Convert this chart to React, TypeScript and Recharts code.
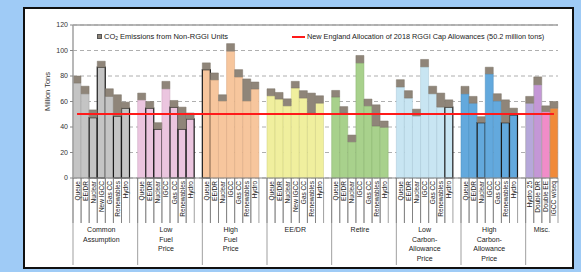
import React from "react";
import { BarChart, Bar, XAxis, YAxis, CartesianGrid, ReferenceLine, Legend, Rectangle } from "recharts";

// ---------- data ----------
const groupLabels: string[][] = [
  ["Common", "Assumption"],
  ["Low", "Fuel", "Price"],
  ["High", "Fuel", "Price"],
  ["EE/DR"],
  ["Retire"],
  ["Low", "Carbon-", "Allowance", "Price"],
  ["High", "Carbon-", "Allowance", "Price"],
  ["Misc."],
];

const caseLabels: string[][] = [
  ["Queue", "EE/DR", "Nuclear", "New IGCC", "Gas CC", "Renewables", "Hydro"],
  ["Queue", "EE/DR", "Nuclear", "IGCC", "Gas CC", "Renewables", "Hydro"],
  ["Queue", "EE/DR", "Nuclear", "IGCC", "Gas CC", "Renewables", "Hydro"],
  ["Queue", "EE/DR", "Nuclear", "New IGCC", "Gas CC", "Renewables", "Hydro"],
  ["Queue", "EE/DR", "Nuclear", "IGCC", "Gas CC", "Renewables", "Hydro"],
  ["Queue", "EE/DR", "Nuclear", "IGCC", "Gas CC", "Renewables", "Hydro"],
  ["Queue", "EE/DR", "Nuclear", "IGCC", "Gas CC", "Renewables", "Hydro"],
  ["Hydro 25", "Double DR", "Double EE", "IGCC w/seq"],
];

// RGGI-unit emissions (million tons)
const rggiEmissions: number[][] = [
  [74.5, 66.1, 47.4, 86.9, 64.0, 48.5, 54.8],
  [61.3, 54.8, 38.4, 70.0, 55.6, 38.4, 46.3],
  [85.0, 77.0, 60.5, 99.5, 79.3, 60.5, 69.8],
  [64.5, 61.9, 56.6, 70.6, 62.7, 50.8, 58.7],
  [63.5, 50.8, 28.4, 90.3, 56.6, 40.8, 39.8],
  [71.4, 62.7, 48.7, 87.2, 66.1, 55.6, 55.6],
  [66.1, 58.7, 43.4, 81.7, 60.5, 43.4, 49.5],
  [58.7, 73.2, 52.1, 54.8],
];

// CO2 emissions from non-RGGI units (million tons)
const nonRggiEmissions: number[][] = [
  [5.5, 5.9, 6.0, 4.7, 6.0, 16.8, 4.7],
  [5.3, 5.2, 5.0, 5.8, 5.2, 17.2, 4.7],
  [5.3, 5.4, 4.8, 5.9, 5.7, 17.2, 5.5],
  [5.5, 5.2, 5.5, 5.2, 5.8, 15.8, 5.8],
  [5.2, 5.2, 5.3, 5.8, 5.3, 16.6, 4.9],
  [5.7, 5.8, 5.3, 5.8, 5.9, 11.0, 5.7],
  [5.8, 5.3, 4.7, 5.2, 5.6, 17.9, 5.3],
  [5.3, 6.1, 4.5, 5.2],
];

const capAllowance = 50.2;
const yTicks = [0, 20, 40, 60, 80, 100, 120];

// ---------- styles ----------
const groupFills: string[][] = [
  ["#c4c4c4"],
  ["#ebc5df"],
  ["#f7c69d"],
  ["#f0ef9e"],
  ["#a8d18c"],
  ["#c8e5f2"],
  ["#63a9dd"],
  ["#b6a8da", "#c497d6", "#f08cc8", "#f08a3a"],
];
const groupEdges = ["#9c9c9c", "#c9a3bd", "#d9a57c", "#cfcf7e", "#88b06c", "#a4c4d4", "#4a8cbd", "#999"];
const outlinedBars: number[][] = [[2, 3, 5, 6], [1, 2, 4, 5, 6], [0], [], [], [6], [2, 5, 6], []];
const NONRGGI_FILL = "#8f8579";
const NONRGGI_EDGE = "#7d7468";
const FONT = "'Liberation Sans', Arial, sans-serif";

const W = 581;
const H = 272;
const M = { top: 25, right: 23, left: 43, bottom: 0 };
const YAXIS_W = 30;
const XAXIS_H = 94;

type Row = {
  key: string;
  label: string;
  gap: boolean;
  group: number;
  idx: number;
  size: number;
  rggi: number | null;
  nonRggi: number | null;
  fill: string;
  stroke: string;
  strokeWidth: number;
};

const rows: Row[] = [];
caseLabels.forEach((labels, g) => {
  labels.forEach((label, i) => {
    const outlined = outlinedBars[g].includes(i);
    const fills = groupFills[g];
    rows.push({
      key: `g${g}-${i}`,
      label,
      gap: false,
      group: g,
      idx: i,
      size: labels.length,
      rggi: rggiEmissions[g][i],
      nonRggi: nonRggiEmissions[g][i],
      fill: fills[i % fills.length],
      stroke: outlined ? "#1a1a1a" : groupEdges[g],
      strokeWidth: outlined ? 1.2 : 0.5,
    });
  });
  if (g < caseLabels.length - 1) {
    rows.push({
      key: `gap${g}`,
      label: "",
      gap: true,
      group: g,
      idx: -1,
      size: 0,
      rggi: null,
      nonRggi: null,
      fill: "none",
      stroke: "none",
      strokeWidth: 0,
    });
  }
});
const rowByKey: Record<string, Row> = {};
rows.forEach((r) => (rowByKey[r.key] = r));

const PLOT_W = W - M.left - YAXIS_W - M.right;
const BAND = PLOT_W / rows.length;

function RggiShape(props: any) {
  const { x, y, width, height, payload } = props;
  if (!payload || payload.gap || !height) return null;
  return (
    <Rectangle
      x={x}
      y={y}
      width={width}
      height={height}
      fill={payload.fill}
      stroke={payload.stroke}
      strokeWidth={payload.strokeWidth}
    />
  );
}

function NonRggiShape(props: any) {
  const { x, y, width, height, payload } = props;
  if (!payload || payload.gap || !height) return null;
  return <Rectangle x={x} y={y} width={width} height={height} fill={NONRGGI_FILL} stroke={NONRGGI_EDGE} strokeWidth={0.5} />;
}

function CaseTick(props: any) {
  const { x, y, payload } = props;
  const row = rowByKey[payload.value];
  if (!row || row.gap) return null;
  const lx = x - BAND / 2;
  const rx = x + BAND / 2;
  const ty = y + 3;
  const els: React.ReactNode[] = [];
  els.push(
    <text
      key="t"
      x={x}
      y={ty}
      transform={`rotate(-90, ${x}, ${ty})`}
      textAnchor="end"
      dominantBaseline="central"
      fontSize={6.5}
      fontFamily={FONT}
      fill="#222"
    >
      {row.label}
    </text>
  );
  els.push(<line key="l" x1={lx} x2={lx} y1={y} y2={y + 45} stroke="#777" strokeWidth={0.7} />);
  els.push(<line key="r" x1={rx} x2={rx} y1={y} y2={y + 45} stroke="#777" strokeWidth={0.7} />);
  if (row.idx === 0) {
    els.push(<line key="g" x1={lx} x2={lx} y1={y} y2={y + 87} stroke="#777" strokeWidth={0.7} />);
  }
  let cx: number | null = null;
  if (row.size % 2 === 1 && row.idx === (row.size - 1) / 2) cx = x;
  if (row.size % 2 === 0 && row.idx === row.size / 2 - 1) cx = x + BAND / 2;
  if (cx !== null) {
    groupLabels[row.group].forEach((ln, k) => {
      els.push(
        <text
          key={`gl${k}`}
          x={cx as number}
          y={y + 54 + k * 9.5}
          textAnchor="middle"
          fontSize={7}
          fontFamily={FONT}
          fill="#222"
        >
          {ln}
        </text>
      );
    });
  }
  return <g>{els}</g>;
}

function LegendContent() {
  return (
    <div style={{ position: "relative", width: W, height: 12, fontFamily: FONT, color: "#222" }}>
      <div
        style={{
          position: "absolute",
          left: 97,
          top: 3,
          width: 5,
          height: 5,
          background: NONRGGI_FILL,
          border: "0.8px solid #555",
          boxSizing: "border-box",
        }}
      />
      <div
        style={{
          position: "absolute",
          left: 104,
          top: 0,
          whiteSpace: "nowrap",
          lineHeight: "11px",
          fontSize: 7.5,
          color: "#222",
        }}
      >
        <span style={{ color: "#222" }}>CO</span>
        <sub style={{ fontSize: 5, verticalAlign: "-1px", color: "#222" }}>2</sub>
        <span style={{ color: "#222" }}> Emissions from Non-RGGI Units</span>
      </div>
      <div style={{ position: "absolute", left: 292, top: 4.5, width: 13, height: 2.5, background: "#ff1a1a" }} />
      <div
        style={{
          position: "absolute",
          left: 307,
          top: 0,
          whiteSpace: "nowrap",
          lineHeight: "11px",
          fontSize: 7.3,
          color: "#222",
        }}
      >
        <span style={{ color: "#222" }}>New England Allocation of 2018 RGGI Cap Allowances (50.2 million tons)</span>
      </div>
    </div>
  );
}

export default function App() {
  const firstKey = rows[0].key;
  const lastKey = rows[rows.length - 1].key;
  return (
    <div style={{ position: "absolute", left: 0, top: 0, width: W, height: H, background: "#9fcbf6", overflow: "hidden" }}>
      <div
        style={{
          position: "absolute",
          left: 23,
          top: 7,
          width: 551,
          height: 262,
          background: "#fff",
          border: "2px solid #111",
          boxSizing: "border-box",
        }}
      />
      <div style={{ position: "absolute", left: 0, top: 0 }}>
        <BarChart
          width={W}
          height={H}
          data={rows}
          margin={M}
          barCategoryGap={0}
          barGap={0}
          style={{ fontFamily: FONT }}
        >
          <CartesianGrid vertical={false} stroke="#9a9a9a" strokeDasharray="4 3" strokeWidth={0.8} />
          <XAxis
            dataKey="key"
            interval={0}
            height={XAXIS_H}
            tickLine={false}
            tickSize={0}
            tickMargin={0}
            axisLine={{ stroke: "#888", strokeWidth: 1.2 }}
            tick={<CaseTick />}
          />
          <YAxis
            domain={[0, 120]}
            ticks={yTicks}
            width={YAXIS_W}
            tickSize={3}
            tickMargin={2}
            tick={{ fontSize: 7, fill: "#333", fontFamily: FONT }}
            tickLine={{ stroke: "#888" }}
            axisLine={{ stroke: "#a0a0a0", strokeWidth: 1.5 }}
            label={{
              value: "Million Tons",
              angle: -90,
              position: "insideLeft",
              offset: 0,
              dx: 4,
              dy: -10,
              style: { fontSize: 7.5, fill: "#333", fontFamily: FONT, textAnchor: "middle" },
            }}
          />
          <YAxis
            yAxisId="right"
            orientation="right"
            domain={[0, 120]}
            width={0}
            tick={false}
            tickLine={false}
            axisLine={{ stroke: "#a0a0a0", strokeWidth: 1.5 }}
          />
          <ReferenceLine y={120} stroke="#a0a0a0" strokeWidth={1.5} />
          <Legend
            verticalAlign="middle"
            layout="horizontal"
            align="center"
            wrapperStyle={{ top: 31, left: 0, width: W, height: 12 }}
            content={() => <LegendContent />}
          />
          <Bar dataKey="rggi" stackId="s" isAnimationActive={false} shape={<RggiShape />} />
          <Bar dataKey="nonRggi" stackId="s" isAnimationActive={false} shape={<NonRggiShape />} />
          <ReferenceLine
            segment={[
              { x: firstKey, y: capAllowance },
              { x: lastKey, y: capAllowance },
            ]}
            stroke="#ff1a1a"
            strokeWidth={2}
            ifOverflow="visible"
          />
        </BarChart>
      </div>
    </div>
  );
}
